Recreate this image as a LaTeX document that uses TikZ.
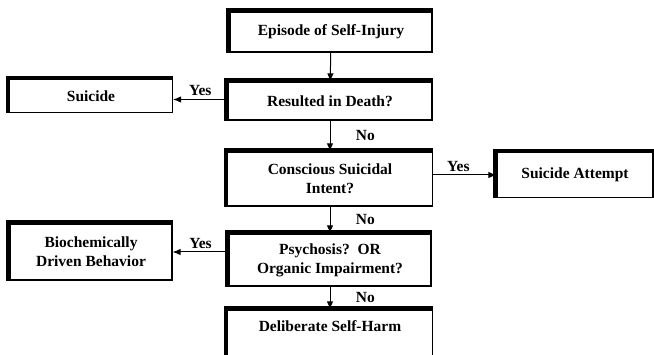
\documentclass[tikz,border=0pt]{standalone}
\usepackage{fontspec}
\setmainfont{Liberation Serif}
\usetikzlibrary{arrows.meta}

\begin{document}
\begin{tikzpicture}[x=1pt, y=-1pt,
    flowbox/.style = {draw, line width=1.2pt, align=center, inner sep=0pt,
                      font=\bfseries\fontsize{15.5}{19}\selectfont},
    flow/.style = {draw, line width=1pt, -{Latex[length=8pt, width=6.5pt]}},
    answer/.style = {font=\bfseries\fontsize{15.5}{18}\selectfont}]
    % Page frame
    \useasboundingbox (0,0) rectangle (654,355);
    \clip (0,0) rectangle (654,355);

    % Main column
    \node[flowbox, minimum width=202pt, minimum height=40pt] (episode) at (331,32) {Episode of Self-Injury};
    \node[flowbox, minimum width=204pt, minimum height=38pt] (death) at (330,101) {Resulted in Death?};
    \node[flowbox, minimum width=205pt, minimum height=54pt] (intent) at (330,179) {Conscious Suicidal\\Intent?};
    \node[flowbox, minimum width=202pt, minimum height=52pt] (psychosis) at (330,260) {Psychosis?~~OR\\Organic Impairment?};
    \node[flowbox, minimum width=205pt, minimum height=52pt] (harm) at (330,336) {\raisebox{19pt}{Deliberate Self-Harm}};

    % Outcomes to the sides
    \node[flowbox, minimum width=163pt, minimum height=33pt] (suicide) at (91,96) {Suicide};
    \node[flowbox, minimum width=156pt, minimum height=45pt] (attempt) at (575,175) {Suicide Attempt};
    \node[flowbox, minimum width=162pt, minimum height=56pt] (biochem) at (91,252) {Biochemically\\Driven Behavior};

    % Heavy top and left edges
    \foreach \b in {episode, death, intent, psychosis, harm, suicide, attempt, biochem}
        \draw[line width=3.5pt] ([xshift=-1.5pt]\b.south west) -- ([shift={(-1.5pt,1.5pt)}]\b.north west) -- ([yshift=1.5pt]\b.north east);

    % Connectors
    \draw[flow] (episode) -- (death);
    \draw[flow] ([yshift=1.5pt]death.west) -- node[answer, above] {Yes} ([yshift=1.5pt]death.west -| suicide.east);
    \draw[flow] (death) -- node[answer, right=22pt] {No} (intent);
    \draw[flow] (attempt.west -| intent.east) -- node[answer, above, pos=0.4] {Yes} (attempt.west);
    \draw[flow] (intent) -- node[answer, right=22pt] {No} (psychosis);
    \draw[flow] (biochem.east -| psychosis.west) -- node[answer, above] {Yes} (biochem.east);
    \draw[flow] (psychosis) -- node[answer, right=22pt] {No} (harm);
\end{tikzpicture}
\end{document}
